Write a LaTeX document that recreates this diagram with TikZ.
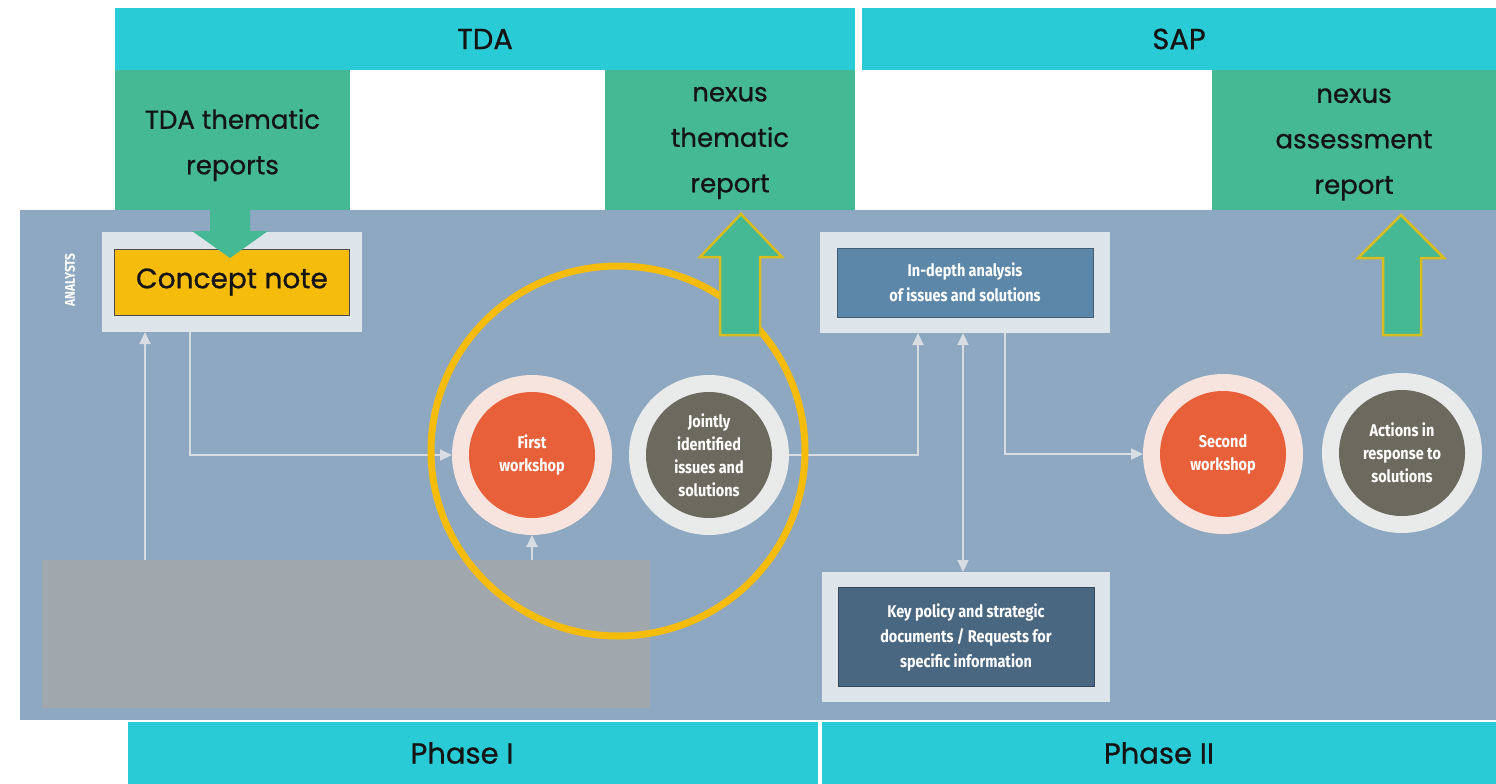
\documentclass[tikz,border=0pt]{standalone}
\usepackage{fontspec}
\setmainfont{Poppins}[FakeBold=0.8]
\newfontfamily\cond[FakeStretch=0.85]{Fira Sans}
\usetikzlibrary{arrows.meta}
\definecolor{cyanbar}{HTML}{29CCD6}
\definecolor{greenbox}{HTML}{45B894}
\definecolor{panel}{HTML}{8DA8C0}
\definecolor{greyrect}{HTML}{A0A8AE}
\definecolor{yellowc}{HTML}{F5BC0C}
\definecolor{arrowrim}{HTML}{D9BC1E}
\definecolor{orangec}{HTML}{E8603A}
\definecolor{ringpink}{HTML}{F8E4DE}
\definecolor{ringlight}{HTML}{E9EBEB}
\definecolor{darkc}{HTML}{6C695E}
\definecolor{boxout}{HTML}{DDE4EA}
\definecolor{idin}{HTML}{5C87A8}
\definecolor{kpin}{HTML}{4A6781}
\definecolor{linec}{HTML}{D7DDE2}
\definecolor{ink}{HTML}{141414}
\begin{document}
\begin{tikzpicture}[x=1pt,y=-1pt,
  bar/.style={fill=cyanbar, text=ink, inner sep=0pt, outer sep=0pt, font=\fontsize{29}{36}\selectfont},
  rep/.style={fill=greenbox, inner sep=0pt, outer sep=0pt},
  reptext/.style={text=ink, inner sep=0pt, align=center, font=\fontsize{26}{45.5}\selectfont},
  outbox/.style={fill=boxout, inner sep=0pt, outer sep=0pt},
  inbox/.style={inner sep=0pt, outer sep=0pt, text=white, align=center, font=\cond\bfseries\fontsize{17}{25}\selectfont},
  ring/.style={circle, inner sep=0pt, outer sep=0pt, minimum size=160pt},
  core/.style={circle, inner sep=0pt, minimum size=126pt, text=white, align=center, font=\cond\bfseries\fontsize{17}{23}\selectfont},
  conn/.style={draw=linec, line width=2pt, -{Triangle[width=11pt,length=12pt]}},
  blockup/.style={fill=greenbox, draw=arrowrim, line width=2.5pt, line join=miter}
]
\useasboundingbox (0,0) rectangle (1496,784);
% headers
\node[bar, minimum width=740pt, minimum height=62pt, anchor=north west] (tda) at (115,8) {TDA};
\node[bar, minimum width=634pt, minimum height=62pt, anchor=north west] (sap) at (862,8) {SAP};
\node[rep, minimum width=235pt, minimum height=140pt, anchor=north west] (tdarep) at (115,70) {};
\node[reptext] (tdarept) at ([yshift=-5pt]tdarep.center) {TDA thematic\\reports};
\node[rep, minimum width=250pt, minimum height=140pt, anchor=north west] (nexth) at (605,70) {};
\node[reptext] (nextht) at ([yshift=-3pt]nexth.center) {nexus\\thematic\\report};
\node[rep, minimum width=284pt, minimum height=143pt, anchor=north west] (nexas) at (1212,70) {};
\node[reptext] (nexast) at ([yshift=-3pt]nexas.center) {nexus\\assessment\\report};
% panel
\fill[panel] (20,210) rectangle (1496,720);
\node[fill=greyrect, inner sep=0pt, outer sep=0pt, minimum width=608pt, minimum height=148pt, anchor=north west] (grey) at (42,560) {};
% bottom bars
\node[bar, minimum width=690pt, minimum height=62pt, anchor=north west] (ph1) at (128,722) {};
\node[text=ink, font=\fontsize{29}{36}\selectfont] (ph1t) at (462,753) {Phase I};
\node[bar, minimum width=674pt, minimum height=62pt, anchor=north west] (ph2) at (822,722) {Phase II};
% analysts label
\node[rotate=90, text=white, font=\cond\bfseries\fontsize{14}{14}\selectfont] (analysts) at (70,280) {ANALYSTS};
% concept note
\node[outbox, minimum width=260pt, minimum height=100pt, anchor=north west] (cnout) at (102,232) {};
\node[inbox, fill=yellowc, draw=black!70, line width=1pt, text=ink, minimum width=235pt, minimum height=66pt, font=\fontsize{28}{34}\selectfont] (cn) at (cnout.center) {Concept note};
% green down arrow
\fill[greenbox] (210,209) -- (250,209) -- (250,231) -- (268,231) -- (230,258) -- (192,231) -- (210,231) -- cycle;
% in-depth
\node[outbox, minimum width=290pt, minimum height=101pt, anchor=north west] (idout) at (820,232) {};
\node[inbox, fill=idin, draw=idin!70!black, line width=0.8pt, minimum width=256pt, minimum height=69pt] (id) at (idout.center) {In-depth analysis\\of issues and solutions};
% key policy
\node[outbox, minimum width=288pt, minimum height=130pt, anchor=north west] (kpout) at (822,572) {};
\node[inbox, fill=kpin, draw=kpin!70!black, line width=0.8pt, minimum width=256pt, minimum height=99pt] (kp) at (kpout.center) {Key policy and strategic\\documents / Requests for\\specific information};
% circles
\node[ring, fill=ringpink] (first) at (532,455) {};
\node[core, fill=orangec] (firstc) at (first.center) {First\\workshop};
\node[ring, fill=ringlight] (joint) at (709,455) {};
\node[core, fill=darkc] (jointc) at (joint.center) {Jointly\\identified\\issues and\\solutions};
\node[ring, fill=ringpink] (second) at (1223,454) {};
\node[core, fill=orangec] (secondc) at (second.center) {Second\\workshop};
\node[ring, fill=ringlight] (act) at (1402,453) {};
\node[core, fill=darkc] (actc) at (act.center) {Actions in\\response to\\solutions};
% connectors
\draw[conn] ([xshift=43pt]cnout.south west |- grey.north) -- ([xshift=43pt]cnout.south west);
\draw[conn] ([xshift=88pt]cnout.south west) |- (first.west);
\draw[conn] (first.south |- grey.north) -- (first.south);
\draw[conn] (joint.east) -| ([xshift=98pt]idout.south west);
\draw[conn, {Triangle[width=11pt,length=12pt]}-{Triangle[width=11pt,length=12pt]}] ([xshift=143pt]idout.south west) -- ([xshift=143pt]idout.south west |- kpout.north);
\draw[conn] ([xshift=185pt]idout.south west) |- (second.west);
% yellow ring
\draw[yellowc, line width=7pt] (618,451) ellipse [x radius=187pt, y radius=185pt];
% green up arrows
\draw[blockup] (720,335) -- (760,335) -- (760,257) -- (782,257) -- (741,214) -- (700,257) -- (720,257) -- cycle;
\draw[blockup] (1383,335) -- (1421,335) -- (1421,258) -- (1444,258) -- (1401,215) -- (1358,258) -- (1383,258) -- cycle;
\end{tikzpicture}
\end{document}
